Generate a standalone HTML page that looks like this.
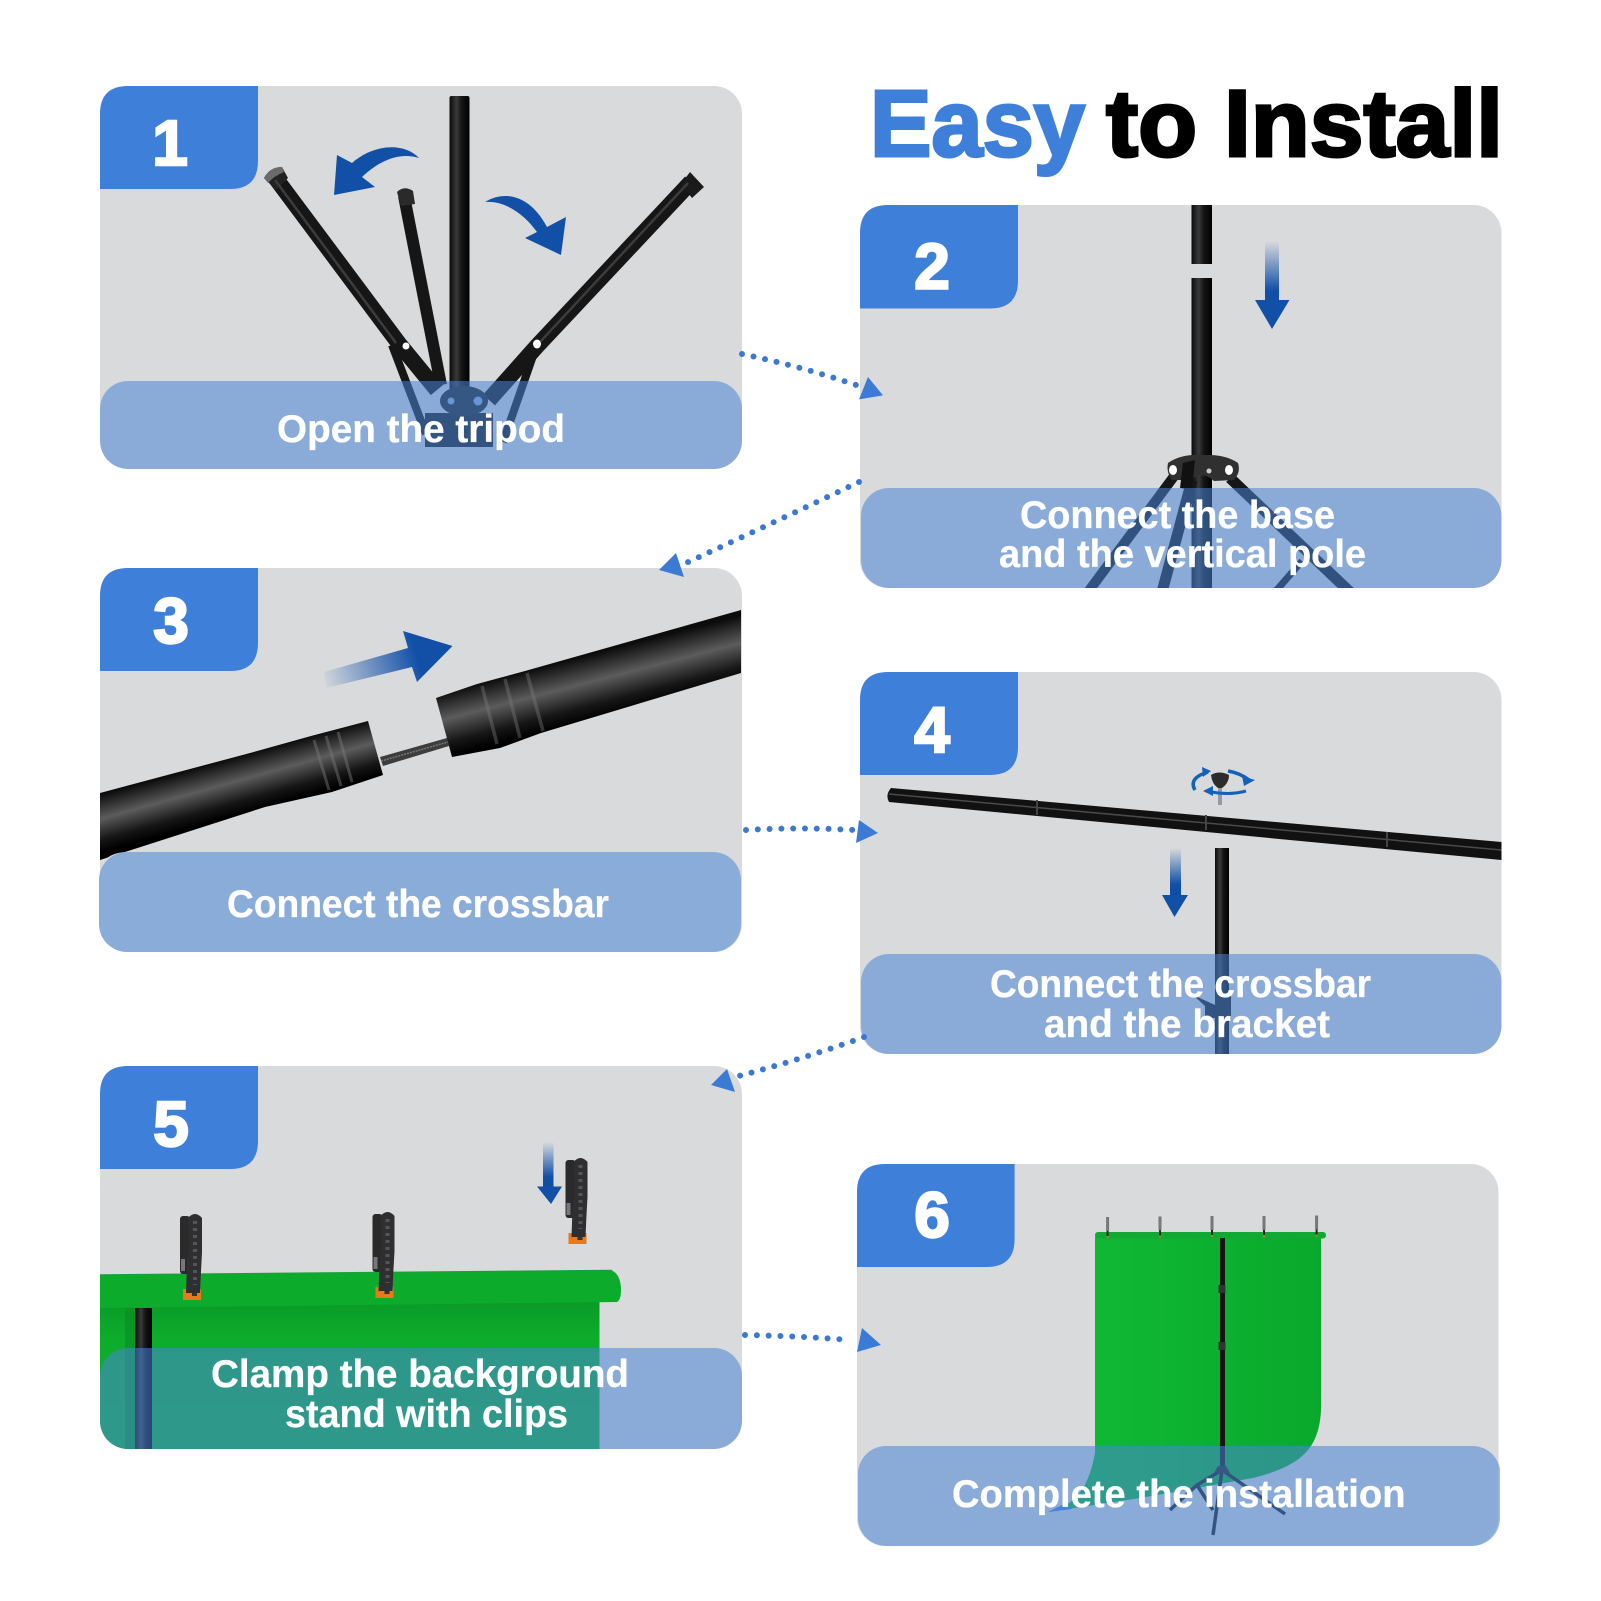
<!DOCTYPE html>
<html lang="en">
<head>
<meta charset="utf-8">
<title>Easy to Install</title>
<style>
html,body{margin:0;padding:0;background:#fff;width:1601px;height:1601px;overflow:hidden}
svg{display:block}
text{font-family:"Liberation Sans",sans-serif;font-weight:700}
.cap{fill:#fff;font-size:39px;stroke:#fff;stroke-width:.3px}
.num{fill:#fff;font-size:64px;stroke:#fff;stroke-width:2.4px;text-anchor:middle}
.dot{fill:none;stroke:#3b78cf;stroke-width:6;stroke-linecap:round;stroke-dasharray:0 11.8}
.head{fill:#3b7bd6}
.ov{fill:rgba(73,133,213,.55)}
.tab{fill:#3e80d9}
.cd{fill:#d9dadc}
.bk{fill:none;stroke:#161616;stroke-linecap:butt}
.hl{fill:none;stroke:#3c3c3c;stroke-width:2.5}
</style>
</head>
<body>
<svg width="1601" height="1601" viewBox="0 0 1601 1601" xmlns="http://www.w3.org/2000/svg">
<defs>
<clipPath id="c1"><rect x="100" y="86" width="642" height="383" rx="28"/></clipPath>
<clipPath id="c2"><rect x="860" y="205" width="641.5" height="383" rx="28"/></clipPath>
<clipPath id="c3"><path d="M100,568H742V852H128Q108,852 100,866Z"/></clipPath>
<clipPath id="c4"><rect x="860" y="672" width="641.5" height="382" rx="28"/></clipPath>
<clipPath id="c5"><rect x="100" y="1066" width="642" height="383" rx="28"/></clipPath>
<clipPath id="c6"><rect x="857" y="1164" width="643" height="382" rx="28"/></clipPath>
<linearGradient id="pv" x1="0" x2="1" y1="0" y2="0"><stop offset="0" stop-color="#0a0a0a"/><stop offset=".35" stop-color="#3a3a3a"/><stop offset=".6" stop-color="#151515"/><stop offset="1" stop-color="#000"/></linearGradient>
<linearGradient id="t1" gradientUnits="userSpaceOnUse" x1="250" y1="753" x2="265" y2="807"><stop offset="0" stop-color="#0c0c0c"/><stop offset=".42" stop-color="#5c5c5c"/><stop offset=".78" stop-color="#161616"/><stop offset="1" stop-color="#000"/></linearGradient>
<linearGradient id="t2" gradientUnits="userSpaceOnUse" x1="525" y1="671" x2="541" y2="733"><stop offset="0" stop-color="#0c0c0c"/><stop offset=".42" stop-color="#5c5c5c"/><stop offset=".78" stop-color="#161616"/><stop offset="1" stop-color="#000"/></linearGradient>
<linearGradient id="av" x1="0" x2="0" y1="0" y2="1"><stop offset="0" stop-color="#1250a8" stop-opacity="0"/><stop offset=".75" stop-color="#1250a8"/><stop offset="1" stop-color="#0f4ea6"/></linearGradient>
<linearGradient id="ah" gradientUnits="userSpaceOnUse" x1="322" y1="684" x2="440" y2="648"><stop offset="0" stop-color="#1250a8" stop-opacity="0"/><stop offset=".8" stop-color="#1250a8"/></linearGradient>
<linearGradient id="g6" x1="0" x2="1" y1="0" y2="0"><stop offset="0" stop-color="#10bb36"/><stop offset="1" stop-color="#0aa92c"/></linearGradient>
<linearGradient id="g5" x1="0" x2="0" y1="0" y2="1"><stop offset="0" stop-color="#099a26"/><stop offset=".25" stop-color="#0dac2c"/><stop offset="1" stop-color="#0fb030"/></linearGradient>
<g id="clip">
<rect x="0" y="3" width="10" height="58" rx="3" fill="#2a2a2a"/>
<rect x="1" y="46" width="4" height="12" fill="#777"/>
<path d="M3,76H21V87H3Z" fill="#e87a1e"/>
<path d="M8,78H12V83H17V78H19V74H8Z" fill="#333"/>
<path d="M8,5Q15,-3 22,5L22,40L21,58L20,80H6L7,50L9,35Z" fill="#2f2f31"/>
<path d="M15,8V72" stroke="#555" stroke-width="4" stroke-dasharray="3 4"/>
</g>
<g id="mini">
<rect x="-1.5" y="-19" width="3" height="14" fill="#777"/>
<rect x="-1" y="-5" width="2" height="5" fill="#222"/>
<rect x="-1" y="0" width="2" height="2" fill="#c77a20"/>
</g>
</defs>

<!-- Title -->
<text x="870" y="156" font-size="95" fill="#3e80d9" stroke="#3e80d9" stroke-width="3" textLength="215" lengthAdjust="spacingAndGlyphs">Easy</text>
<text x="1106" y="156" font-size="95" fill="#000" stroke="#000" stroke-width="3" textLength="397" lengthAdjust="spacingAndGlyphs">to Install</text>

<!-- Card 1 -->
<rect class="cd" x="100" y="86" width="642" height="383" rx="28"/>
<g clip-path="url(#c1)">
<rect x="449.500" y="96" width="20" height="320" rx="2" fill="url(#pv)"/>
<path class="bk" stroke-width="12" d="M404,196L441,385"/>
<path d="M397,192Q404,185 413,191L415,204L401,206Z" fill="#2a2a2a"/>
<path class="bk" stroke-width="16" d="M274,176L400,345L437,390"/>
<path d="M264,178Q270,167 282,167L288,178L276,190Z" fill="#222"/>
<path d="M264,178Q270,167 282,167L284,172Q274,176 268,183Z" fill="#6a6a6a"/>
<path class="hl" d="M275,180L396,343"/>
<path class="bk" stroke-width="8" d="M392,345L426,434"/>
<path class="bk" stroke-width="16" d="M691,182L537,346L489,400"/>
<path d="M690,172L704,187L692,198L681,184Z" fill="#1a1a1a"/>
<path class="hl" d="M688,183L540,342"/>
<path class="bk" stroke-width="8" d="M535,350L503,442"/>
<path d="M425,413H493V447H425Z" fill="#1a1a1a"/>
<ellipse cx="464" cy="401" rx="24" ry="15" fill="#1f1f1f"/>
<circle cx="406" cy="346" r="3.500" fill="#fff"/>
<ellipse cx="537" cy="344" rx="4" ry="4.500" fill="#fff"/>
<circle cx="451" cy="401" r="3.500" fill="#8aacd9"/>
<circle cx="478" cy="401" r="4.500" fill="#8aacd9"/>
<path d="M419,158C405,143 375,143 352,163L337,155L334,195L375,187L362,177C380,160 400,152 419,158Z" fill="#1250a8"/>
<path d="M485,202C505,190 530,195 547,227L566,217L561,255L525,238L537,232C525,215 505,200 485,202Z" fill="#1250a8"/>
<rect class="ov" x="100" y="381" width="642" height="88" rx="28"/>
</g>
<path class="tab" d="M100,189V114Q100,86 128,86H258V161Q258,189 230,189Z"/>
<text class="num" x="170" y="165">1</text>
<text class="cap" x="277" y="442" textLength="288" lengthAdjust="spacingAndGlyphs">Open the tripod</text>

<!-- Card 2 -->
<rect class="cd" x="860" y="205" width="641.500" height="383" rx="28"/>
<g clip-path="url(#c2)">
<rect x="1191.500" y="205" width="20.500" height="59" fill="url(#pv)"/>
<rect x="1191.500" y="278" width="20.500" height="315" fill="url(#pv)"/>
<path class="bk" stroke-width="10" d="M1175,475L1088,592"/>
<path class="bk" stroke-width="11" d="M1230,478L1350,592"/>
<path class="bk" stroke-width="11" d="M1192,480L1162,592"/>
<path class="bk" stroke-width="7" d="M1275,592L1302,561"/>
<path d="M1168,463Q1178,456 1192,455H1212Q1228,456 1238,463Q1241,472 1234,480L1214,481Q1202,470 1190,480H1172Q1166,472 1168,463Z" fill="#303030"/>
<path d="M1183,463L1195,460L1192,490L1180,488Z" fill="#111"/>
<ellipse cx="1173" cy="470" rx="4" ry="5" fill="#fff"/>
<ellipse cx="1229" cy="470" rx="4" ry="5" fill="#fff"/>
<circle cx="1209" cy="471" r="2.500" fill="#ccc"/>
<rect x="1265" y="241" width="14" height="66" fill="url(#av)"/>
<path d="M1255,300H1289.500L1272,329Z" fill="#1250a8"/>
<rect class="ov" x="861" y="488" width="640.500" height="100" rx="28"/>
</g>
<path class="tab" d="M860,308.500V233Q860,205 888,205H1018V280.500Q1018,308.500 990,308.500Z"/>
<text class="num" x="932" y="288.500">2</text>
<text class="cap" x="1020" y="528" textLength="315" lengthAdjust="spacingAndGlyphs">Connect the base</text>
<text class="cap" x="999" y="567" textLength="367" lengthAdjust="spacingAndGlyphs">and the vertical pole</text>

<!-- Card 3 -->
<rect class="cd" x="100" y="568" width="642" height="384" rx="28"/>
<g clip-path="url(#c3)">
<path d="M100,793L250,753L311,736L368,721L383,775L332,792L265,807L100,860Z" fill="url(#t1)"/>
<g stroke="#7a7a7a" stroke-opacity=".45" stroke-width="3" fill="none">
<path d="M314,740L329,790M326,736L341,786M338,732L352,782"/>
</g>
<path d="M380,757L447,738L449,746L383,766Z" fill="#3d3d3d"/>
<path d="M381,761L448,742" stroke="#777" stroke-width="1.500" stroke-dasharray="2 1"/>
<path d="M436,698L477,684L525,671L741,610V673L541,733L500,748L452,757Z" fill="url(#t2)"/>
<g stroke="#7a7a7a" stroke-opacity=".4" stroke-width="3.500" fill="none">
<path d="M482,686L497,744M505,679L520,738M527,673L543,731"/>
</g>
</g>
<path fill="url(#ah)" d="M324,672L408,648L403,631L452.500,646L417,682L412,667L326,688Z"/>
<rect x="99" y="852" width="642" height="100" rx="28" fill="#8aacd9"/>
<path class="tab" d="M100,671V596Q100,568 128,568H258V643Q258,671 230,671Z"/>
<text class="num" x="171" y="643">3</text>
<text class="cap" x="227" y="917" textLength="382" lengthAdjust="spacingAndGlyphs">Connect the crossbar</text>

<!-- Card 4 -->
<rect class="cd" x="860" y="672" width="641.500" height="382" rx="28"/>
<g clip-path="url(#c4)">
<path d="M891,788L1501.500,842V860L889,802Q885,795 891,788Z" fill="#111"/>
<path d="M889,794L1501.500,850" stroke="#4a4a4a" stroke-width="1.500"/>
<path d="M1037,800V815M1206,815V830M1387,832V847" stroke="#444" stroke-width="2"/>
<rect x="1215" y="848" width="14" height="210" fill="url(#pv)"/>
<path d="M1193,995L1215,1005V1018L1205,1018L1205,1006Z" fill="#1a1a1a"/>
<rect x="1215" y="995" width="16" height="25" fill="#1a1a1a"/>
<rect x="1218" y="785" width="4" height="20" fill="#999"/>
<path d="M1211,775Q1219,770 1229,775Q1229,783 1222,788H1218Q1212,784 1211,775Z" fill="#2c2c2c"/>
<path d="M1195,790Q1188,778 1208,772" fill="none" stroke="#1462b8" stroke-width="3.500"/>
<path d="M1211,771L1202,767L1203,777Z" fill="#1462b8"/>
<path d="M1228,771Q1240,773 1249,780" fill="none" stroke="#1462b8" stroke-width="3.500"/>
<path d="M1255,780L1244,786L1242,776Z" fill="#1462b8"/>
<path d="M1207,791Q1228,796 1246,791" fill="none" stroke="#1462b8" stroke-width="3"/>
<path d="M1203,791L1213,786V796Z" fill="#1462b8"/>
<rect x="1170" y="848" width="11" height="48" fill="url(#av)"/>
<path d="M1162,895H1188L1174.500,917Z" fill="#1250a8"/>
<rect class="ov" x="861" y="954" width="640.500" height="100" rx="28"/>
</g>
<path class="tab" d="M860,775V700Q860,672 888,672H1018V747Q1018,775 990,775Z"/>
<text class="num" x="932" y="752">4</text>
<text class="cap" x="990" y="997" textLength="381" lengthAdjust="spacingAndGlyphs">Connect the crossbar</text>
<text class="cap" x="1044" y="1037" textLength="286" lengthAdjust="spacingAndGlyphs">and the bracket</text>

<!-- Card 5 -->
<rect class="cd" x="100" y="1066" width="642" height="383" rx="28"/>
<g clip-path="url(#c5)">
<rect x="100" y="1300" width="499.500" height="150" fill="url(#g5)"/>
<rect x="125" y="1308" width="10" height="142" fill="#0a8f25" opacity=".7"/>
<rect x="135" y="1308" width="17" height="142" fill="url(#pv)"/>
<path d="M100,1275L612,1270.500Q621,1275 621,1290Q621,1300 617,1302L100,1308Z" fill="#0cab2b"/>
<path d="M100,1275L612,1270.500" stroke="#16a236" stroke-width="1.500"/>
<rect class="ov" x="100" y="1348" width="642" height="101" rx="28"/>
</g>
<use href="#clip" x="180" y="1213"/>
<use href="#clip" x="372.500" y="1211"/>
<use href="#clip" x="565.500" y="1157"/>
<rect x="543" y="1142" width="10.500" height="46" fill="url(#av)"/>
<path d="M537,1186.500H562L551,1204Z" fill="#1250a8"/>
<path class="tab" d="M100,1169V1094Q100,1066 128,1066H258V1141Q258,1169 230,1169Z"/>
<text class="num" x="171" y="1146">5</text>
<text class="cap" x="211" y="1387" textLength="418" lengthAdjust="spacingAndGlyphs">Clamp the background</text>
<text class="cap" x="285" y="1427" textLength="283" lengthAdjust="spacingAndGlyphs">stand with clips</text>

<!-- Card 6 -->
<rect class="cd" x="857" y="1164" width="641.500" height="382" rx="28"/>
<g clip-path="url(#c6)">
<path d="M1095,1237H1321V1410C1319,1450 1300,1466 1253,1478L1140,1498L1048,1512C1075,1505 1088,1490 1095,1453Z" fill="url(#g6)"/>
<path d="M1048,1512L1066,1503L1072,1509Z" fill="#3e80d9"/>
<rect x="1095" y="1232" width="231" height="6.500" rx="3" fill="#11a934"/>
<rect x="1220" y="1238" width="5" height="232" fill="#141414"/>
<rect x="1218.500" y="1285" width="7" height="8" fill="#333"/>
<rect x="1218.500" y="1342" width="7" height="8" fill="#333"/>
<use href="#mini" x="1107.600" y="1236"/>
<use href="#mini" x="1160" y="1235.500"/>
<use href="#mini" x="1212" y="1235"/>
<use href="#mini" x="1264" y="1235"/>
<use href="#mini" x="1316.600" y="1234.500"/>
<path d="M1222,1470L1213,1535M1222,1470L1285,1514M1222,1470L1197,1485L1170,1510M1197,1485L1213,1510" stroke="#1a1a1a" stroke-width="3.500" fill="none"/>
<path d="M1214,1473H1230L1226,1466H1218Z" fill="#222"/>
<rect class="ov" x="858" y="1446" width="642.500" height="100" rx="28"/>
</g>
<path class="tab" d="M857,1267V1192Q857,1164 885,1164H1014.600V1239Q1014.600,1267 986.600,1267Z"/>
<text class="num" x="932" y="1237">6</text>
<text class="cap" x="952" y="1507" textLength="453.500" lengthAdjust="spacingAndGlyphs">Complete the installation</text>

<!-- Connectors -->
<path class="dot" d="M742,354Q800,366 859,386"/>
<path class="head" d="M868,377L883,395.400L859,399.400Z"/>
<path class="dot" d="M859,482Q775,522 686,563"/>
<path class="head" d="M676,553L659,570L684,577Z"/>
<path class="dot" d="M746,830Q800,827 854,830"/>
<path class="head" d="M859,820L878,833L856,843Z"/>
<path class="dot" d="M864,1037Q800,1060 735,1077"/>
<path class="head" d="M727,1069L711,1085L735,1092Z"/>
<path class="dot" d="M745,1335Q800,1336 850,1340"/>
<path class="head" d="M862,1328L881,1345L857,1352Z"/>
</svg>
</body>
</html>
